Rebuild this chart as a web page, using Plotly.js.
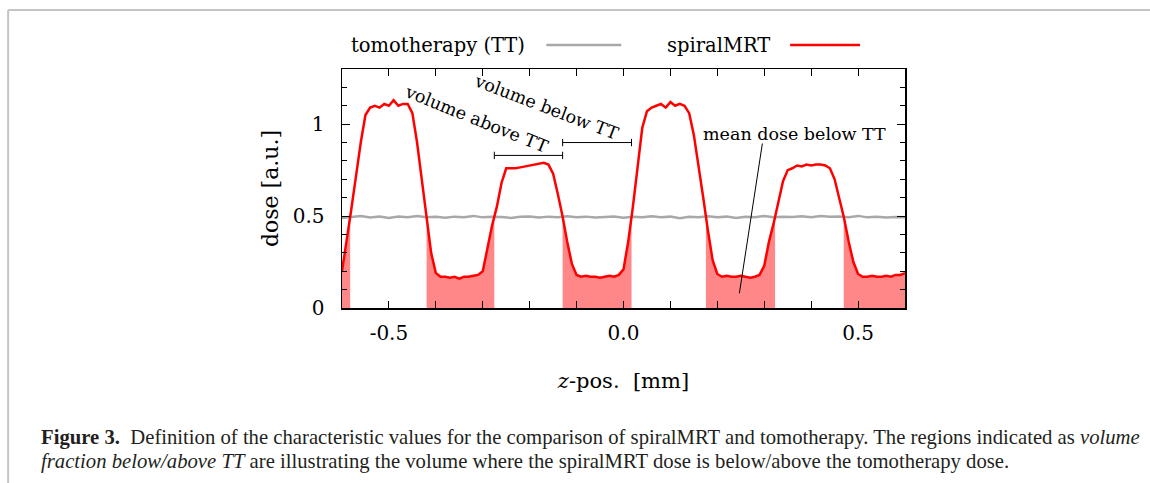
<!DOCTYPE html>
<html>
<head>
<meta charset="utf-8">
<script src="https://cdn.plot.ly/plotly-3.0.1.min.js"></script>
<style>
html,body{margin:0;padding:0;background:#fff;}
#chart{width:1150px;height:483px;}
</style>
</head>
<body>
<div id="chart"></div>
<script>
// ---- data ----
// spiralMRT dose, sampled every 0.01 mm from -0.60 to 0.60
const zStart = -0.6, zStep = 0.01;
const spiralMRT = [
0.20,0.36,0.54,0.72,0.90,1.05,1.09,1.10,1.09,1.11,
1.10,1.13,1.10,1.11,1.11,1.06,0.90,0.70,0.50,0.30,
0.19,0.17,0.17,0.165,0.17,0.16,0.17,0.17,0.175,0.18,
0.20,0.33,0.45,0.55,0.68,0.76,0.76,0.76,0.765,0.77,
0.775,0.78,0.785,0.79,0.78,0.73,0.62,0.50,0.36,0.24,
0.18,0.17,0.175,0.17,0.17,0.165,0.17,0.175,0.17,0.18,
0.21,0.36,0.55,0.78,0.98,1.07,1.09,1.10,1.11,1.09,
1.12,1.10,1.11,1.10,1.06,0.94,0.78,0.60,0.42,0.26,
0.185,0.17,0.175,0.17,0.17,0.175,0.17,0.165,0.17,0.18,
0.23,0.36,0.46,0.57,0.69,0.75,0.76,0.775,0.77,0.78,
0.775,0.78,0.78,0.775,0.76,0.70,0.60,0.49,0.36,0.25,
0.185,0.17,0.17,0.175,0.17,0.17,0.175,0.17,0.18,0.18,
0.19];
// tomotherapy dose, sampled every 0.02 mm from -0.60 to 0.60
const ttStep = 0.02;
const tomotherapy = [
0.490,0.495,0.500,0.492,0.497,0.490,0.498,0.494,0.500,0.493,
0.496,0.491,0.497,0.494,0.501,0.493,0.497,0.495,0.490,0.496,
0.498,0.492,0.497,0.494,0.499,0.493,0.497,0.492,0.495,0.498,
0.491,0.496,0.494,0.499,0.493,0.497,0.488,0.496,0.493,0.499,
0.494,0.497,0.490,0.496,0.494,0.500,0.493,0.497,0.495,0.499,
0.494,0.500,0.496,0.498,0.494,0.501,0.493,0.496,0.492,0.495,
0.493];
const xTickVals = [-0.6,-0.5,-0.4,-0.3,-0.2,-0.1,0,0.1,0.2,0.3,0.4,0.5,0.6];
const xTickText = ['','-0.5','','','','','0.0','','','','','0.5',''];
const yTickVals = [0,0.5,1];
const yTickText = ['0','0.5','1'];
const seriesNames = ['tomotherapy (TT)','spiralMRT'];

// ---- derived ----
const zRed = spiralMRT.map((_,i)=>+(zStart+i*zStep).toFixed(4));
const zTT = tomotherapy.map((_,i)=>+(zStart+i*ttStep).toFixed(4));
function ttAt(z){
  let i = Math.min(Math.floor((z-zStart)/ttStep+1e-9), zTT.length-2);
  const t = (z-zTT[i])/(zTT[i+1]-zTT[i]);
  return tomotherapy[i]+(tomotherapy[i+1]-tomotherapy[i])*t;
}
// regions where spiralMRT is below TT
const diff = spiralMRT.map((v,i)=>v-ttAt(zRed[i]));
const regions = []; const crossings = [];
let cur = null;
for(let i=0;i<zRed.length;i++){
  const below = diff[i] < 0;
  if(i>0 && (diff[i-1]<0) !== below){
    const t = diff[i-1]/(diff[i-1]-diff[i]);
    const zc = zRed[i-1]+t*(zRed[i]-zRed[i-1]);
    const yc = spiralMRT[i-1]+t*(spiralMRT[i]-spiralMRT[i-1]);
    crossings.push(zc);
    if(below){ cur = {x:[zc],y:[yc]}; }
    else { cur.x.push(zc); cur.y.push(yc); regions.push(cur); cur=null; }
  }
  if(below){ if(!cur) cur={x:[],y:[]}; cur.x.push(zRed[i]); cur.y.push(spiralMRT[i]); }
}
if(cur) regions.push(cur);

const serif = "'DejaVu Serif', serif";
const capFont = "'Liberation Serif', serif";
const traces = [];
regions.forEach(r=>traces.push({x:r.x,y:r.y,type:'scatter',mode:'lines',fill:'tozeroy',
  fillcolor:'rgb(255,135,135)',line:{width:0,color:'rgba(0,0,0,0)'},showlegend:false,hoverinfo:'skip'}));
traces.push({x:zTT,y:tomotherapy,type:'scatter',mode:'lines',name:seriesNames[0],
  line:{color:'#a8a8a8',width:2.5},showlegend:false});
traces.push({x:zRed,y:spiralMRT,type:'scatter',mode:'lines',name:seriesNames[1],
  line:{color:'#ff0000',width:2.5},showlegend:false});

// brackets from crossings: volume above TT (2nd rise -> 2nd drop), volume below TT (2nd drop -> 3rd rise)
const aboveL = crossings[2], aboveR = crossings[3], belowR = crossings[4];
const yAbove = 0.83, yBelow = 0.9, cap = 0.02;
function bracket(a,b,h){
  return [
    {type:'line',xref:'x',yref:'y',x0:a,x1:b,y0:h,y1:h,line:{color:'#000',width:1}},
    {type:'line',xref:'x',yref:'y',x0:a,x1:a,y0:h-cap,y1:h+cap,line:{color:'#000',width:1}},
    {type:'line',xref:'x',yref:'y',x0:b,x1:b,y0:h-cap,y1:h+cap,line:{color:'#000',width:1}}
  ];
}
const shapes = [].concat(bracket(aboveL,aboveR,yAbove), bracket(aboveR,belowR,yBelow));
// pointer line for mean dose
shapes.push({type:'line',xref:'x',yref:'y',x0:0.296,y0:0.895,x1:0.247,y1:0.08,line:{color:'#000',width:1}});
// legend sample lines
shapes.push({type:'line',xref:'paper',yref:'paper',x0:0.363,x1:0.496,y0:1.10,y1:1.10,line:{color:'#a8a8a8',width:2.5}});
shapes.push({type:'line',xref:'paper',yref:'paper',x0:0.796,x1:0.920,y0:1.10,y1:1.10,line:{color:'#ff0000',width:2.5}});
// figure frame (top and left)
shapes.push({type:'line',xref:'paper',yref:'paper',x0:-0.593,x1:1.44,y0:1.247,y1:1.247,line:{color:'#c4c4c4',width:2}});
shapes.push({type:'line',xref:'paper',yref:'paper',x0:-0.593,x1:-0.593,y0:1.247,y1:-0.75,line:{color:'#c4c4c4',width:2}});

const annFont = {family:serif,size:17.5,color:'#000'};
const annotations = [
  {xref:'paper',yref:'paper',x:0.329,y:1.10,xanchor:'right',yanchor:'middle',text:seriesNames[0],showarrow:false,font:{family:serif,size:19.5,color:'#000'}},
  {xref:'paper',yref:'paper',x:0.763,y:1.10,xanchor:'right',yanchor:'middle',text:seriesNames[1],showarrow:false,font:{family:serif,size:19.5,color:'#000'}},
  {xref:'x',yref:'y',x:-0.314,y:1.027,text:'volume above TT',textangle:22,showarrow:false,font:annFont},
  {xref:'x',yref:'y',x:-0.165,y:1.095,text:'volume below TT',textangle:21,showarrow:false,font:annFont},
  {xref:'x',yref:'y',x:0.364,y:0.946,text:'mean dose below TT',showarrow:false,font:annFont},
  {xref:'paper',yref:'paper',x:-0.538,y:-0.540,xanchor:'left',yanchor:'middle',showarrow:false,align:'left',
   text:'<b>Figure 3.</b>  Definition of the characteristic values for the comparison of spiralMRT and tomotherapy. The regions indicated as <i>volume</i>',
   font:{family:capFont,size:20.7,color:'#231f20'}},
  {xref:'paper',yref:'paper',x:-0.538,y:-0.644,xanchor:'left',yanchor:'middle',showarrow:false,align:'left',
   text:'<i>fraction below/above TT</i> are illustrating the volume where the spiralMRT dose is below/above the tomotherapy dose.',
   font:{family:capFont,size:20.7,color:'#231f20'}}
];

const layout = {
  width:1150,height:483,
  margin:{l:342,r:245,t:69,b:175},
  paper_bgcolor:'#fff',plot_bgcolor:'#fff',
  showlegend:false,
  font:{family:serif,color:'#000'},
  xaxis:{range:[-0.6,0.6],tickvals:xTickVals,ticktext:xTickText,ticks:'inside',ticklen:7,tickwidth:1,tickcolor:'#000',
    showline:true,linecolor:'#000',linewidth:1.5,mirror:'allticks',showgrid:false,zeroline:false,
    tickfont:{family:serif,size:20},ticklabelstandoff:6,
    title:{text:'<i>z</i>-pos.  [mm]',font:{family:serif,size:21},standoff:30}},
  yaxis:{range:[0,1.3],tickvals:yTickVals,ticktext:yTickText,ticks:'inside',ticklen:8,tickwidth:1,tickcolor:'#000',
    minor:{dtick:0.1,tick0:0,ticks:'inside',ticklen:5,tickcolor:'#000'},
    showline:true,linecolor:'#000',linewidth:1.5,mirror:'allticks',showgrid:false,zeroline:false,
    tickfont:{family:serif,size:20},ticklabelstandoff:12,
    title:{text:'dose [a.u.]',font:{family:serif,size:22},standoff:8}},
  shapes:shapes,
  annotations:annotations
};
Plotly.newPlot('chart',traces,layout,{staticPlot:true});
</script>
</body>
</html>
